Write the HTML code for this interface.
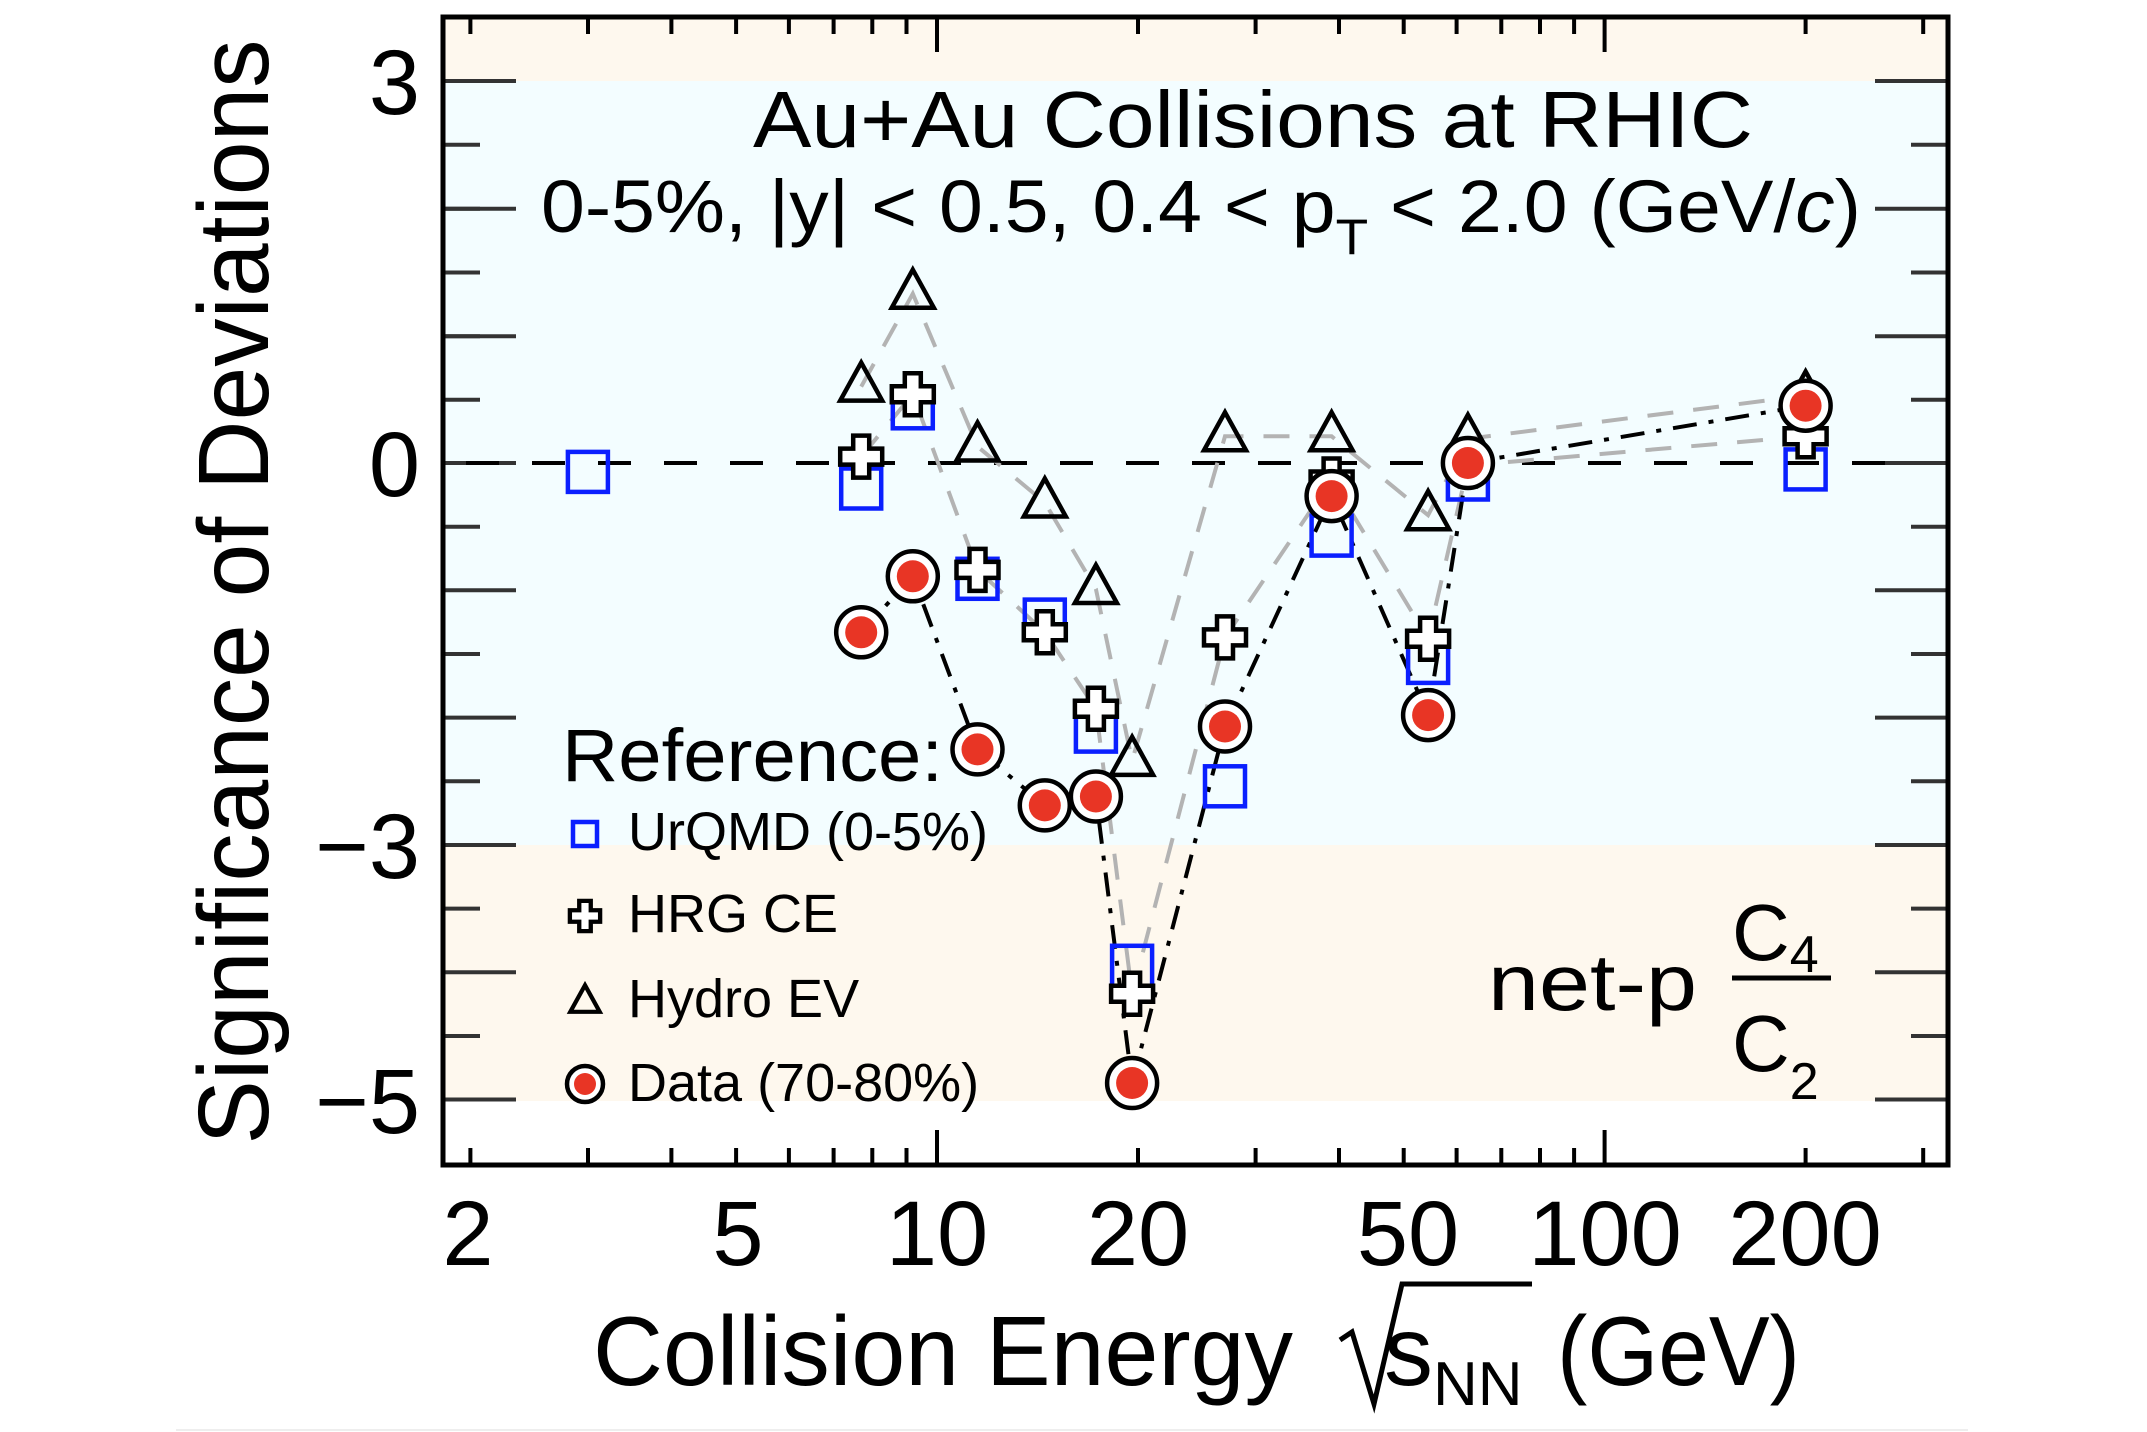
<!DOCTYPE html>
<html><head><meta charset="utf-8"><style>
html,body{margin:0;padding:0;background:#fff;}
svg{display:block;}
text{font-family:"Liberation Sans",Arial,sans-serif;fill:#000;}
</style></head><body>
<svg width="2147" height="1432" viewBox="0 0 2147 1432" xmlns="http://www.w3.org/2000/svg">
<defs>
<path id="cr" d="M-8,-21 L8,-21 L8,-8 L21,-8 L21,8 L8,8 L8,21 L-8,21 L-8,8 L-21,8 L-21,-8 L-8,-8 Z" fill="#fff" stroke="#000" stroke-width="4.5"/>
<path id="tr" d="M0,-24 L21,14 L-21,14 Z" fill="none" stroke="#000" stroke-width="4.5"/>
<rect id="sq" x="-20" y="-20" width="40" height="40" fill="none" stroke="#0a1fff" stroke-width="4.5"/>
<g id="dc"><circle r="25" fill="#fff" stroke="#000" stroke-width="4.5"/><circle r="16" fill="#e83525"/></g>
</defs>
<!-- background bands -->
<rect x="443" y="17" width="1505" height="64" fill="#fef8ee"/>
<rect x="443" y="81" width="1505" height="764" fill="#f3fdff"/>
<rect x="443" y="845" width="1505" height="256" fill="#fef8ee"/>
<!-- y ticks -->
<g stroke="#333" stroke-width="4">
<line x1="443" y1="81" x2="516" y2="81"/><line x1="443" y1="208.7" x2="480" y2="208.7"/>
<line x1="443" y1="336.3" x2="480" y2="336.3"/>
<line x1="443" y1="144.8" x2="480" y2="144.8"/>
<line x1="443" y1="208.7" x2="516" y2="208.7"/><line x1="443" y1="272.5" x2="480" y2="272.5"/>
<line x1="443" y1="336.3" x2="516" y2="336.3"/><line x1="443" y1="399.7" x2="480" y2="399.7"/>
<line x1="443" y1="463" x2="516" y2="463"/><line x1="443" y1="526.7" x2="480" y2="526.7"/>
<line x1="443" y1="590.3" x2="516" y2="590.3"/><line x1="443" y1="654" x2="480" y2="654"/>
<line x1="443" y1="717.6" x2="516" y2="717.6"/><line x1="443" y1="781.3" x2="480" y2="781.3"/>
<line x1="443" y1="845" x2="516" y2="845"/><line x1="443" y1="908.6" x2="480" y2="908.6"/>
<line x1="443" y1="972.3" x2="516" y2="972.3"/><line x1="443" y1="1036" x2="480" y2="1036"/>
<line x1="443" y1="1099.5" x2="516" y2="1099.5"/>
<line x1="1948" y1="81" x2="1875" y2="81"/><line x1="1948" y1="144.8" x2="1911" y2="144.8"/>
<line x1="1948" y1="208.7" x2="1875" y2="208.7"/><line x1="1948" y1="272.5" x2="1911" y2="272.5"/>
<line x1="1948" y1="336.3" x2="1875" y2="336.3"/><line x1="1948" y1="399.7" x2="1911" y2="399.7"/>
<line x1="1948" y1="463" x2="1875" y2="463"/><line x1="1948" y1="526.7" x2="1911" y2="526.7"/>
<line x1="1948" y1="590.3" x2="1875" y2="590.3"/><line x1="1948" y1="654" x2="1911" y2="654"/>
<line x1="1948" y1="717.6" x2="1875" y2="717.6"/><line x1="1948" y1="781.3" x2="1911" y2="781.3"/>
<line x1="1948" y1="845" x2="1875" y2="845"/><line x1="1948" y1="908.6" x2="1911" y2="908.6"/>
<line x1="1948" y1="972.3" x2="1875" y2="972.3"/><line x1="1948" y1="1036" x2="1911" y2="1036"/>
<line x1="1948" y1="1099.5" x2="1875" y2="1099.5"/>
</g>
<!-- x ticks -->
<g stroke="#000" stroke-width="4">
<path d="M470.4,1165v-17M588,1165v-17M671.4,1165v-17M736.1,1165v-17M788.9,1165v-17M833.6,1165v-17M872.3,1165v-17M906.5,1165v-17M937,1165v-35M1138,1165v-17M1255.6,1165v-17M1339,1165v-17M1403.7,1165v-17M1456.6,1165v-17M1501.3,1165v-17M1540,1165v-17M1574.1,1165v-17M1604.6,1165v-35M1805.6,1165v-17M1923.2,1165v-17"/>
<path d="M470.4,17v17M588,17v17M671.4,17v17M736.1,17v17M788.9,17v17M833.6,17v17M872.3,17v17M906.5,17v17M937,17v35M1138,17v17M1255.6,17v17M1339,17v17M1403.7,17v17M1456.6,17v17M1501.3,17v17M1540,17v17M1574.1,17v17M1604.6,17v35M1805.6,17v17M1923.2,17v17"/>
</g>
<!-- zero line -->
<line x1="466" y1="463" x2="1910" y2="463" stroke="#000" stroke-width="4" stroke-dasharray="33 33"/>
<!-- gray dashed model lines -->
<g fill="none" stroke="#b3b3b3" stroke-width="4" stroke-dasharray="26 20">
<polyline points="861.2,386.6 912.8,293.7 977.5,446.5 1044.8,502.5 1095.9,589 1132.1,760.9 1225,436.3 1331.6,436.3 1428.1,515.2 1467.9,438.8 1805.6,395.5"/>
<polyline points="861.2,456.6 912.8,394.3 977.5,569.9 1044.8,632.3 1095.9,708.7 1132.1,993.8 1225,637.4 1331.6,479.5 1428.1,638.7 1467.9,465.5 1805.6,436.3"/>
</g>
<!-- data line -->
<polyline fill="none" stroke="#000" stroke-width="4" stroke-dasharray="24 12 5 12" points="861.2,632.3 912.8,576.3 977.5,749.4 1044.8,805.4 1095.9,796.5 1132.1,1083 1225,726.5 1331.6,496.1 1428.1,715.1 1467.9,463 1805.6,405.7"/>
<!-- UrQMD -->
<g>
<use href="#sq" x="587.9" y="471.9"/><use href="#sq" x="861.2" y="488.5"/><use href="#sq" x="912.8" y="408.3"/><use href="#sq" x="977.5" y="578.8"/><use href="#sq" x="1044.8" y="619.6"/><use href="#sq" x="1095.9" y="731.6"/><use href="#sq" x="1132.1" y="965.8"/><use href="#sq" x="1225" y="786.3"/><use href="#sq" x="1331.6" y="535.6"/><use href="#sq" x="1428.1" y="662.9"/><use href="#sq" x="1467.9" y="479.5"/><use href="#sq" x="1805.6" y="469.4"/>
</g>
<!-- HRG -->
<g>
<use href="#cr" x="861.2" y="456.6"/><use href="#cr" x="912.8" y="394.3"/><use href="#cr" x="977.5" y="569.9"/><use href="#cr" x="1044.8" y="632.3"/><use href="#cr" x="1095.9" y="708.7"/><use href="#cr" x="1132.1" y="993.8"/><use href="#cr" x="1225" y="637.4"/><use href="#cr" x="1331.6" y="479.5"/><use href="#cr" x="1428.1" y="638.7"/><use href="#cr" x="1467.9" y="465.5"/><use href="#cr" x="1805.6" y="436.3"/>
</g>
<!-- Hydro -->
<g>
<use href="#tr" x="861.2" y="386.6"/><use href="#tr" x="912.8" y="293.7"/><use href="#tr" x="977.5" y="446.5"/><use href="#tr" x="1044.8" y="502.5"/><use href="#tr" x="1095.9" y="589"/><use href="#tr" x="1132.1" y="760.9"/><use href="#tr" x="1225" y="436.3"/><use href="#tr" x="1331.6" y="436.3"/><use href="#tr" x="1428.1" y="515.2"/><use href="#tr" x="1467.9" y="438.8"/><use href="#tr" x="1805.6" y="395.5"/>
</g>
<!-- Data -->
<g>
<use href="#dc" x="861.2" y="632.3"/><use href="#dc" x="912.8" y="576.3"/><use href="#dc" x="977.5" y="749.4"/><use href="#dc" x="1044.8" y="805.4"/><use href="#dc" x="1095.9" y="796.5"/><use href="#dc" x="1132.1" y="1083"/><use href="#dc" x="1225" y="726.5"/><use href="#dc" x="1331.6" y="496.1"/><use href="#dc" x="1428.1" y="715.1"/><use href="#dc" x="1467.9" y="463"/><use href="#dc" x="1805.6" y="405.7"/>
</g>
<!-- frame -->
<rect x="443" y="17" width="1505" height="1148" fill="none" stroke="#000" stroke-width="5"/>
<!-- header -->
<text x="1253" y="147" font-size="80" text-anchor="middle" textLength="1000" lengthAdjust="spacingAndGlyphs">Au+Au Collisions at RHIC</text>
<text x="541" y="232" font-size="74" textLength="1320" lengthAdjust="spacingAndGlyphs">0-5%, |y| &lt; 0.5, 0.4 &lt; p<tspan font-size="50" dy="22">T</tspan><tspan dy="-22"> &lt; 2.0 (GeV/</tspan><tspan font-style="italic">c</tspan>)</text>
<!-- legend -->
<text x="562" y="781" font-size="74" textLength="381" lengthAdjust="spacingAndGlyphs">Reference:</text>
<rect x="573" y="822" width="24" height="24" fill="none" stroke="#0a1fff" stroke-width="4.5"/>
<text x="628" y="850" font-size="54">UrQMD (0-5%)</text>
<path transform="translate(585,916) scale(0.72)" d="M-8,-21 L8,-21 L8,-8 L21,-8 L21,8 L8,8 L8,21 L-8,21 L-8,8 L-21,8 L-21,-8 L-8,-8 Z" fill="#fff" stroke="#000" stroke-width="6"/>
<text x="628" y="932" font-size="54">HRG CE</text>
<path transform="translate(585,1002) scale(0.7)" d="M0,-24 L21,14 L-21,14 Z" fill="none" stroke="#000" stroke-width="6"/>
<text x="628" y="1017" font-size="54">Hydro EV</text>
<circle cx="585" cy="1084" r="18" fill="#fff" stroke="#000" stroke-width="4.5"/><circle cx="585" cy="1084" r="11" fill="#e83525"/>
<text x="628" y="1101" font-size="54">Data (70-80%)</text>
<!-- net-p label -->
<text x="1488" y="1010" font-size="80" textLength="209" lengthAdjust="spacingAndGlyphs">net-p</text>
<text x="1732" y="960" font-size="80">C<tspan font-size="52" dy="12">4</tspan></text>
<line x1="1732" y1="978" x2="1831" y2="978" stroke="#000" stroke-width="5"/>
<text x="1732" y="1071" font-size="80">C<tspan font-size="52" dy="28">2</tspan></text>
<!-- tick labels -->
<g font-size="92" text-anchor="end">
<text x="420" y="114">3</text>
<text x="420" y="496">0</text>
<text x="420" y="878">−3</text>
<text x="420" y="1133">−5</text>
</g>
<g font-size="92" text-anchor="middle">
<text x="468" y="1265">2</text>
<text x="738" y="1265">5</text>
<text x="937" y="1265">10</text>
<text x="1138" y="1265">20</text>
<text x="1408" y="1265">50</text>
<text x="1605" y="1265">100</text>
<text x="1805" y="1265">200</text>
</g>
<!-- axis titles -->
<text x="593" y="1385" font-size="98" textLength="700" lengthAdjust="spacingAndGlyphs">Collision Energy</text>
<path d="M1340,1340 l12,-8 l22,72 l28,-120 h130" fill="none" stroke="#000" stroke-width="5"/>
<text x="1384" y="1385" font-size="98">s<tspan font-size="62" dy="20">NN</tspan></text>
<text x="1557" y="1385" font-size="98" textLength="243" lengthAdjust="spacingAndGlyphs">(GeV)</text>
<text transform="translate(268,592) rotate(-90)" font-size="100" text-anchor="middle" textLength="1105" lengthAdjust="spacingAndGlyphs">Significance of Deviations</text>
<line x1="176" y1="1430" x2="1968" y2="1430" stroke="#eee" stroke-width="2"/>
</svg>
</body></html>
